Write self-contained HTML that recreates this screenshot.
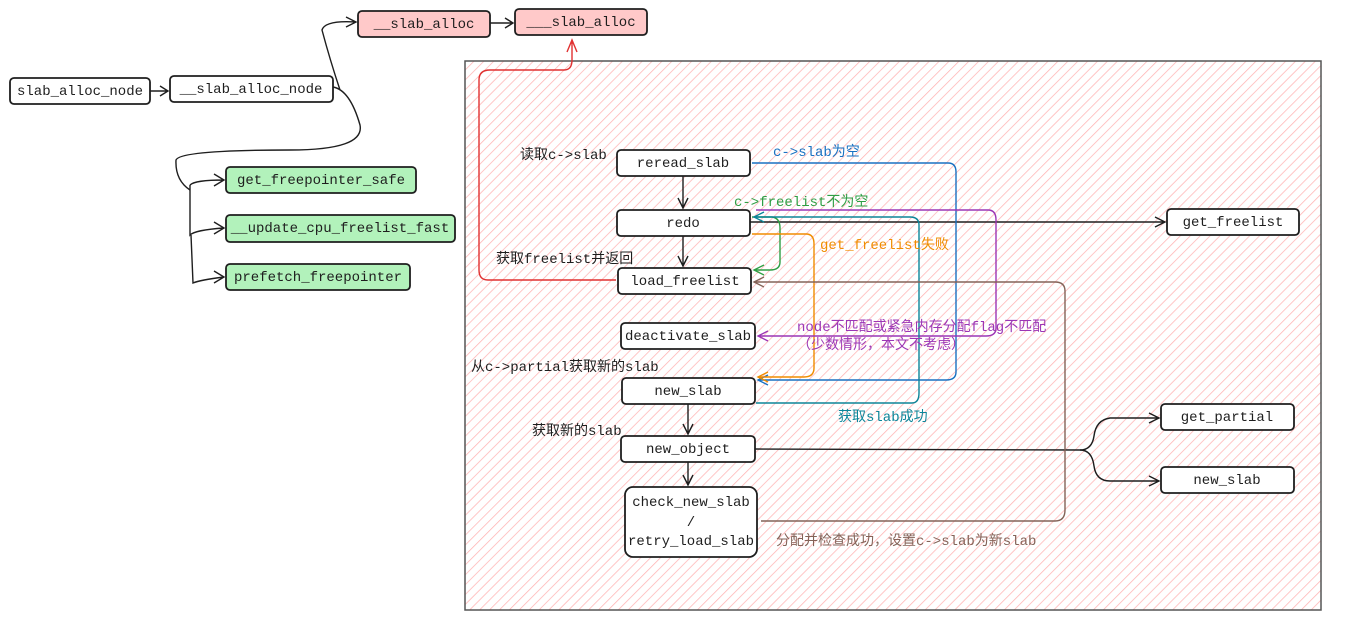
<!DOCTYPE html>
<html><head><meta charset="utf-8"><style>
body{margin:0;width:1347px;height:627px;background:#fff;overflow:hidden}
svg text{font-family:"Liberation Mono","Noto Sans CJK SC",monospace;font-size:14px}
</style></head><body>
<svg width="1347" height="627" xmlns="http://www.w3.org/2000/svg">
<defs>
<pattern id="h" width="7" height="7" patternUnits="userSpaceOnUse" patternTransform="rotate(45)">
<rect width="7" height="7" fill="#fff"/><line x1="0" y1="0" x2="0" y2="7" stroke="#ffb3b3" stroke-width="1.5"/>
</pattern>
</defs>
<rect x="465" y="61" width="856" height="549" fill="url(#h)" stroke="#555" stroke-width="1.5"/>
<g stroke="#1e1e1e" stroke-width="1.8" fill="#fff">
<rect x="10" y="78" width="140" height="26" rx="4"/>
<rect x="170" y="76" width="163" height="26" rx="4"/>
<rect x="358" y="11" width="132" height="26" rx="4" fill="#ffc9c9"/>
<rect x="515" y="9" width="132" height="26" rx="4" fill="#ffc9c9"/>
<rect x="226" y="167" width="190" height="26" rx="4" fill="#b2f2bb"/>
<rect x="226" y="215" width="229" height="27" rx="4" fill="#b2f2bb"/>
<rect x="226" y="264" width="184" height="26" rx="4" fill="#b2f2bb"/>
<rect x="617" y="150" width="133" height="26" rx="4"/>
<rect x="617" y="210" width="133" height="26" rx="4"/>
<rect x="618" y="268" width="133" height="26" rx="4"/>
<rect x="621" y="323" width="134" height="26" rx="4"/>
<rect x="622" y="378" width="133" height="26" rx="4"/>
<rect x="621" y="436" width="134" height="26" rx="4"/>
<rect x="625" y="487" width="132" height="70" rx="8"/>
<rect x="1167" y="209" width="132" height="26" rx="4"/>
<rect x="1161" y="404" width="133" height="26" rx="4"/>
<rect x="1161" y="467" width="133" height="26" rx="4"/>
</g>
<g fill="#1e1e1e" text-anchor="middle">
<text x="80" y="95">slab_alloc_node</text>
<text x="251" y="93">__slab_alloc_node</text>
<text x="424" y="28">__slab_alloc</text>
<text x="581" y="26">___slab_alloc</text>
<text x="321" y="184">get_freepointer_safe</text>
<text x="340" y="232">__update_cpu_freelist_fast</text>
<text x="318" y="281">prefetch_freepointer</text>
<text x="683" y="167">reread_slab</text>
<text x="683" y="227">redo</text>
<text x="685" y="285">load_freelist</text>
<text x="688" y="340">deactivate_slab</text>
<text x="688" y="395">new_slab</text>
<text x="688" y="453">new_object</text>
<text x="691" y="506">check_new_slab</text>
<text x="691" y="526">/</text>
<text x="691" y="545">retry_load_slab</text>
<text x="1233" y="226">get_freelist</text>
<text x="1227" y="421">get_partial</text>
<text x="1227" y="484">new_slab</text>
</g>
<g fill="none" stroke="#1e1e1e" stroke-width="1.4">
<path d="M150 91 L168 91 M160 86 L168 91 L160 96"/>
<path d="M490 23 L513 23 M505 18 L513 23 L505 28"/>
<path d="M333 87 Q350 90 360 125 Q365 150 290 150 Q180 150 176 160 Q175 180 190 190 M340 90 Q330 60 322 30 Q325 20 356 22 M346 17 L356 22 L346 27"/>
<path d="M190 185 Q195 180 224 180 M214 174 L224 180 L214 186"/>
<path d="M190 185 L190 235 Q195 230 224 228 M214 222 L224 228 L214 234"/>
<path d="M191 235 L193 283 Q200 280 224 277 M214 271 L224 277 L214 283"/>
<path d="M683 176 L683 208 M678 198 L683 208 L688 198"/>
<path d="M683 236 L683 266 M678 256 L683 266 L688 256"/>
<path d="M688 404 L688 434 M683 424 L688 434 L693 424"/>
<path d="M688 462 L688 485 M683 475 L688 485 L693 475"/>
<path d="M750 222 L1165 222 M1155 217 L1165 222 L1155 227"/>
<path d="M755 449 L1080 450 Q1092 450 1094 436 Q1096 420 1110 418 L1159 418 M1149 413 L1159 418 L1149 423"/>
<path d="M1080 450 Q1092 450 1094 466 Q1096 481 1110 481 L1159 481 M1149 476 L1159 481 L1149 486"/>
</g>
<path d="M616 280 L488 280 Q479 280 479 270 L479 80 Q479 70 490 70 L564 70 Q572 70 572 60 L572 40 M567 52 L572 40 L577 52" fill="none" stroke="#e03131" stroke-width="1.4"/>
<path d="M752 163 L948 163 Q956 163 956 172 L956 372 Q956 380 946 380 L758 380 M768 375 L758 380 L768 385" fill="none" stroke="#1971c2" stroke-width="1.4"/>
<path d="M752 217 L772 217 Q780 218 780 228 L780 262 Q780 270 770 270 L754 270 M764 265 L754 270 L764 275" fill="none" stroke="#2f9e44" stroke-width="1.4"/>
<path d="M752 234 L806 234 Q814 234 814 244 L814 368 Q814 377 804 377 L758 377 M768 372 L758 377 L768 382" fill="none" stroke="#f08c00" stroke-width="1.4"/>
<path d="M756 210 L988 210 Q996 210 996 220 L996 328 Q996 336 986 336 L758 336 M768 331 L758 336 L768 341" fill="none" stroke="#9c36b5" stroke-width="1.4"/>
<path d="M756 403 L912 403 Q919 403 919 393 L919 225 Q919 217 910 217 L754 217 M764 212 L754 217 L764 222" fill="none" stroke="#0c8599" stroke-width="1.4"/>
<path d="M761 521 L1055 521 Q1065 521 1065 510 L1065 291 Q1065 282 1055 282 L754 282 M764 277 L754 282 L764 287" fill="none" stroke="#846358" stroke-width="1.4"/>
<g>
<text x="520" y="159" fill="#1e1e1e">读取c-&gt;slab</text>
<text x="496" y="263" fill="#1e1e1e">获取freelist并返回</text>
<text x="471" y="371" fill="#1e1e1e">从c-&gt;partial获取新的slab</text>
<text x="532" y="435" fill="#1e1e1e">获取新的slab</text>
<text x="773" y="156" fill="#1971c2">c-&gt;slab为空</text>
<text x="734" y="206" fill="#2f9e44">c-&gt;freelist不为空</text>
<text x="820" y="249" fill="#f08c00">get_freelist失败</text>
<text x="797" y="331" fill="#9c36b5">node不匹配或紧急内存分配flag不匹配</text>
<text x="797" y="349" fill="#9c36b5">（少数情形，本文不考虑）</text>
<text x="838" y="421" fill="#0c8599">获取slab成功</text>
<text x="776" y="545" fill="#846358">分配并检查成功，设置c-&gt;slab为新slab</text>
</g>
</svg>
</body></html>
